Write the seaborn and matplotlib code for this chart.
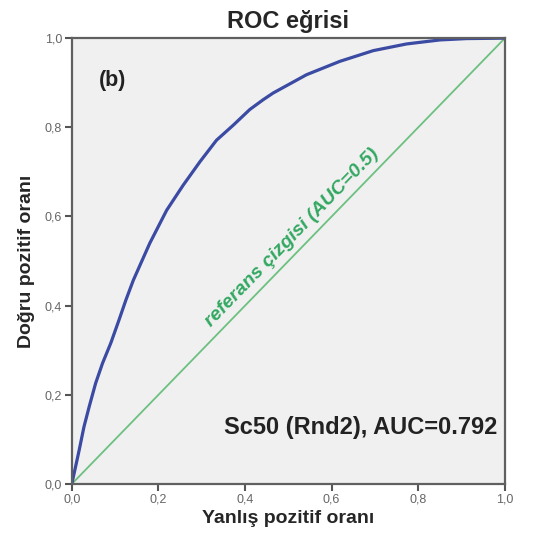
import matplotlib
matplotlib.use("Agg")
import matplotlib.pyplot as plt
import seaborn as sns
import pandas as pd

fpr = [0, 0.017, 0.028, 0.040, 0.055, 0.071, 0.090, 0.109, 0.125, 0.142, 0.180,
       0.219, 0.257, 0.296, 0.334, 0.373, 0.411, 0.442, 0.465, 0.542, 0.619,
       0.696, 0.773, 0.850, 0.911, 1.0]
tpr = [0, 0.076, 0.128, 0.173, 0.226, 0.271, 0.316, 0.368, 0.413, 0.457, 0.540,
       0.614, 0.670, 0.723, 0.771, 0.805, 0.840, 0.862, 0.877, 0.918, 0.948,
       0.972, 0.987, 0.996, 0.999, 1.0]
ref_x = [0.0, 1.0]
ref_y = [0.0, 1.0]
ticks = [0.0, 0.2, 0.4, 0.6, 0.8, 1.0]
tick_labels = ["0,0", "0,2", "0,4", "0,6", "0,8", "1,0"]

sns.set_style("ticks")
plt.rcParams['font.family'] = ['Liberation Sans', 'DejaVu Sans']

fig = plt.figure(figsize=(5.4, 5.45), dpi=100)
ax = fig.add_axes([0.133, 0.112, 0.802, 0.818])
ax.set_facecolor("#f0f0f0")

df = pd.DataFrame({"fpr": fpr, "tpr": tpr})
dref = pd.DataFrame({"x": ref_x, "y": ref_y})
sns.lineplot(data=dref, x="x", y="y", ax=ax, color="#6cc080", linewidth=1.3)
sns.lineplot(data=df, x="fpr", y="tpr", ax=ax, sort=False, color="#3b4aa3",
             linewidth=2.3)

ax.set_xlim(0, 1)
ax.set_ylim(0, 1)
ax.set_xticks(ticks)
ax.set_xticklabels(tick_labels)
ax.set_yticks(ticks)
ax.set_yticklabels(tick_labels)
ax.tick_params(axis="both", direction="out", length=5, width=1.5, color="#555555",
               labelsize=9, labelcolor="#666666", pad=2)
for s in ax.spines.values():
    s.set_color("#606060")
    s.set_linewidth(1.6)

ax.set_xlabel("Yanlış pozitif oranı", fontsize=14, fontweight="bold", labelpad=3)
ax.set_ylabel("Doğru pozitif oranı", fontsize=14, fontweight="bold", labelpad=7)
ax.set_title("ROC eğrisi", fontsize=17, fontweight="bold", pad=7)

ax.text(0.095, 0.906, "(b)", fontsize=15.5, fontweight="bold", ha="center",
        va="center", color="#222222")
ax.text(0.668, 0.126, "Sc50 (Rnd2), AUC=0.792", fontsize=17, fontweight="bold",
        ha="center", va="center", color="#222222")
ax.text(0.508, 0.552, "referans çizgisi (AUC=0.5)", fontsize=14, fontweight="bold",
        fontstyle="italic", ha="center", va="center", color="#33a862",
        rotation=45.8, rotation_mode="anchor")

fig.savefig("out.png", dpi=100)
